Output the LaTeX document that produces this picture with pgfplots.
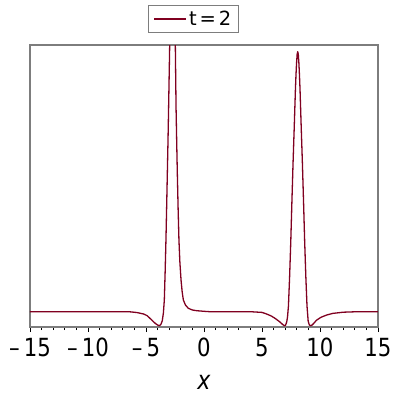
\documentclass[border=0pt]{standalone}
\usepackage{fontspec}
\setmainfont{DejaVu Sans}[FakeStretch=0.85]
\newfontfamily\legfont{DejaVu Sans}
\usepackage{pgfplots}
\pgfplotsset{compat=1.18}
\definecolor{wave}{RGB}{128,0,32}
\definecolor{frame}{RGB}{125,125,125}

\begin{document}
\begin{tikzpicture}
\path[use as bounding box] (-30pt,-73pt) rectangle (370pt,327pt);
\begin{axis}[
    at={(0pt,0pt)}, anchor=south west,
    scale only axis,
    width=348pt, height=282pt,
    xmin=-15, xmax=15,
    ymin=0, ymax=282,
    ytick=\empty,
    xtick={-15,-10,-5,0,5,10,15},
    xticklabels={–\,15,–\,10,–\,5,0,5,10,15},
    minor x tick num=4,
    xtick pos=bottom,
    tick align=outside,
    major tick length=5pt,
    minor tick length=3pt,
    tick style={black, line width=0.6pt},
    axis line style={frame, line width=1.2pt},
    xticklabel style={font=\fontsize{25}{25}\selectfont, anchor=north, inner sep=0pt, yshift=-6pt},
    xlabel={\fontsize{26}{26}\selectfont\itshape x},
    xlabel style={at={(rel axis cs:0.5,0)}, anchor=center, yshift=-55pt},
    legend style={
        at={(0.47,1.092)}, anchor=center,
        draw=frame, line width=1pt,
        font=\legfont\fontsize{19.5}{19.5}\selectfont,
        inner xsep=5pt, inner ysep=3.5pt,
    },
    legend image code/.code={\draw[#1] (0pt,0pt) -- (32pt,0pt);},
]
\addplot[wave, line width=1.3pt, line join=round] coordinates {
(-15,15.3) (-8,15.3) (-6.4,15.2) (-5.8,14.5) (-5.2,13) (-4.9,11.3) (-4.66,8.7)
(-4.4,5.8) (-4.2,3.6) (-4.0,2) (-3.85,1.3) (-3.72,2.5) (-3.6,6) (-3.5,14)
(-3.42,27) (-3.35,55) (-3.28,87) (-3.22,120) (-3.16,154) (-3.1,188) (-3.05,220)
(-2.96,280) (-2.85,370) (-2.72,430) (-2.6,370) (-2.47,280) (-2.41,220)
(-2.35,183) (-2.30,154) (-2.23,118) (-2.16,87) (-2.08,65) (-1.98,47) (-1.88,35)
(-1.78,27) (-1.6,22) (-1.35,18.7) (-1.0,17) (-0.63,16.3) (0,15.7) (0.5,15.3)
(4.0,15.3) (5.0,14.6) (5.4,13) (5.8,11) (6.12,8.7) (6.4,6.3) (6.6,4.5)
(6.75,2.8) (6.92,1.3) (7.03,1.8) (7.13,5) (7.2,10) (7.28,21) (7.38,50)
(7.48,85) (7.58,126) (7.68,165) (7.78,200) (7.88,237) (7.93,252) (7.98,264)
(8.03,272.5) (8.08,275.3) (8.13,272.5) (8.18,264) (8.23,252) (8.28,237)
(8.38,200) (8.48,165) (8.58,126) (8.68,85) (8.78,50) (8.88,21) (8.98,6)
(9.08,2) (9.2,1.3) (9.32,2) (9.45,3.5) (9.7,6.8) (10.1,9.8) (10.58,12)
(11.1,13.6) (12,14.8) (13,15.2) (15,15.3)
};
\addlegendentry{t\hspace{3pt}=\hspace{3pt}2}
\end{axis}
\end{tikzpicture}
\end{document}
